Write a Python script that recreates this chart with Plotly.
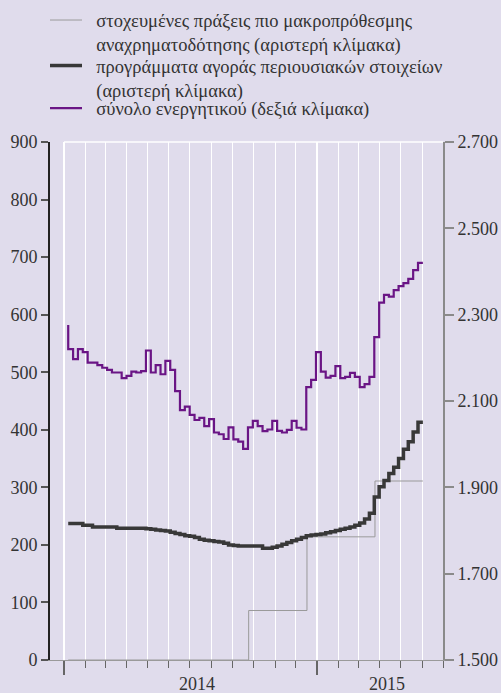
import pandas as pd
import plotly.graph_objects as go

# ---- data -------------------------------------------------------------
weeks = pd.date_range("2014-01-07", periods=74, freq="7D")

# total assets (right scale, EUR bn)
total_assets = [2276, 2220, 2197, 2220, 2213, 2189, 2189, 2183, 2177, 2172,
                2166, 2166, 2153, 2158, 2168, 2166, 2169, 2217, 2166, 2183,
                2162, 2193, 2172, 2123, 2079, 2087, 2068, 2056, 2061, 2042,
                2058, 2027, 2023, 2012, 2039, 2011, 2006, 1989, 2039, 2054,
                2042, 2030, 2034, 2054, 2031, 2027, 2033, 2054, 2038, 2034,
                2132, 2149, 2213, 2168, 2154, 2158, 2181, 2153, 2156, 2165,
                2156, 2132, 2139, 2156, 2248, 2328, 2346, 2342, 2357, 2366,
                2373, 2383, 2403, 2420]

# asset purchase programmes (left scale)
purchases = [237, 237, 237, 237, 234, 234, 231, 231, 231, 231,
             231, 229, 229, 229, 229, 229, 229, 228, 227, 226,
             225, 224, 222, 220, 218, 216, 215, 213, 210, 208,
             207, 206, 205, 203, 200, 199, 198, 198, 198, 198,
             198, 194, 194, 196, 198, 201, 204, 207, 210, 213,
             216, 217, 218, 219, 221, 223, 225, 227, 229, 231,
             234, 238, 245, 255, 283, 301, 312, 324, 335, 350,
             366, 379, 396, 413]

# targeted longer-term refinancing operations (left scale)
tltro_dates = ["2014-01-07", "2014-09-24", "2014-12-17", "2015-03-25", "2015-06-02"]
tltro_values = [0, 86, 214, 311, 311]

left_ticks = [0, 100, 200, 300, 400, 500, 600, 700, 800, 900]
right_tickvals = [1500, 1700, 1900, 2100, 2300, 2500, 2700]
right_ticktext = ["1.500", "1.700", "1.900", "2.100", "2.300", "2.500", "2.700"]
year_labels = ["2014", "2015"]
year_label_pos = ["2014-07-11", "2015-04-12"]

legend_lines = [
    ["στοχευμένες πράξεις πιο μακροπρόθεσμης", "αναχρηματοδότησης (αριστερή κλίμακα)"],
    ["προγράμματα αγοράς περιουσιακών στοιχείων", "(αριστερή κλίμακα)"],
    ["σύνολο ενεργητικού (δεξιά κλίμακα)"],
]
PAD = "\u00a0\u00a0"
names = ["<br>".join(PAD + s for s in lines) for lines in legend_lines]

BG = "#e0dcec"
FONT = "Liberation Serif"
TXT = "#333333"
W, H = 501, 693

fig = go.Figure()
fig.add_trace(go.Scatter(x=tltro_dates, y=tltro_values, mode="lines",
                         line=dict(color="#9a9a9a", width=1, shape="hv"),
                         name=names[0], legend="legend"))
fig.add_trace(go.Scatter(x=weeks, y=purchases, mode="lines",
                         line=dict(color="#383838", width=3.5, shape="vh"),
                         name=names[1], legend="legend2"))
fig.add_trace(go.Scatter(x=weeks, y=total_assets, mode="lines", yaxis="y2",
                         line=dict(color="#6a1585", width=2.2, shape="vh"),
                         name=names[2], legend="legend3"))

def leg(top_px):
    return dict(x=45 / W, y=1 - top_px / H, xref="container", yref="container",
                xanchor="left", yanchor="top",
                bgcolor="rgba(0,0,0,0)", borderwidth=0, valign="top",
                itemwidth=32, font=dict(family=FONT, size=18.5, color=TXT))

annotations = [dict(x=pos, y=-0.0465, xref="x", yref="paper", text=t, showarrow=False,
                    yanchor="middle", xanchor="center",
                    font=dict(family=FONT, size=18, color=TXT))
               for t, pos in zip(year_labels, year_label_pos)]

fig.update_layout(
    width=W, height=H,
    margin=dict(l=50, r=58, t=142, b=33, autoexpand=False),
    paper_bgcolor=BG, plot_bgcolor=BG,
    font=dict(family=FONT, size=18, color=TXT),
    showlegend=True,
    legend=leg(1.5),
    legend2=leg(47),
    legend3=leg(89.5),
    annotations=annotations,
    xaxis=dict(type="date", range=["2013-12-11 18:00", "2015-07-01"],
               tick0="2014-01-01", dtick="M12", ticks="outside", ticklen=14,
               tickwidth=1.5, tickcolor="#666666", showticklabels=False,
               showgrid=True, gridcolor="white", gridwidth=2,
               minor=dict(dtick="M1", tick0="2014-01-01", ticks="outside", ticklen=7,
                          tickwidth=1.2, tickcolor="#666666", showgrid=True,
                          gridcolor="white", gridwidth=1),
               showline=True, linecolor="#9a9a9a", linewidth=1, zeroline=False),
    yaxis=dict(range=[0, 900], tickvals=left_ticks, ticks="outside", ticklen=7,
               tickwidth=1.5, tickcolor="#555555", showline=True, linecolor="#222222",
               linewidth=2, showgrid=False, zeroline=False,
               tickfont=dict(family=FONT, size=18, color=TXT)),
    yaxis2=dict(range=[1500, 2700], overlaying="y", side="right",
                tickvals=right_tickvals, ticktext=right_ticktext, ticks="outside",
                ticklen=9, tickwidth=2, tickcolor="#8a8a8a", showline=True,
                linecolor="#8a8a8a", linewidth=2, showgrid=False, zeroline=False,
                tickfont=dict(family=FONT, size=18, color=TXT)),
    shapes=[dict(type="line", xref="x", yref="paper", x0="2014-01-01", x1="2015-07-01",
                 y0=1, y1=1, line=dict(color="white", width=1.5), layer="below")],
)

fig.write_html("out.html", config={"displayModeBar": False},
               post_script="document.body.style.margin='0px';"
                           "document.documentElement.style.overflow='hidden';")
